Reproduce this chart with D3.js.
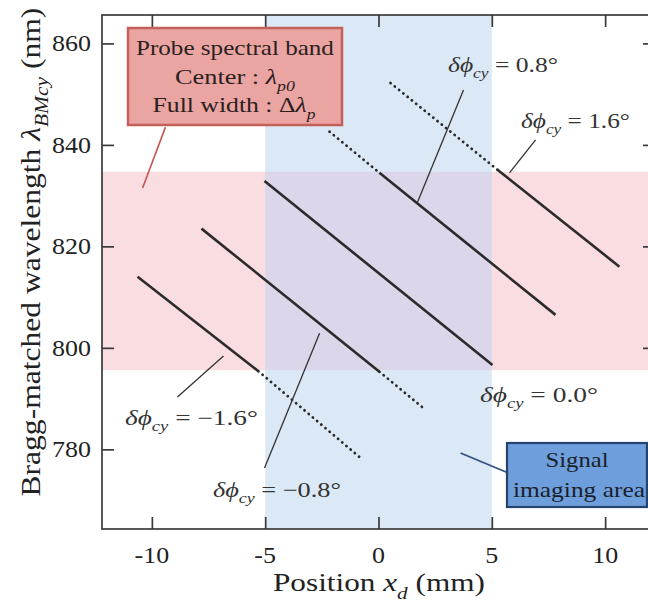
<!DOCTYPE html>
<html>
<head>
<meta charset="utf-8">
<script src="https://cdn.jsdelivr.net/npm/d3@7"></script>
<style>
  html, body { margin: 0; padding: 0; background: #fff; }
  svg { display: block; }
</style>
</head>
<body>
<svg id="chart" width="648" height="602"></svg>
<script>
// ---------------- DATA ----------------
const xTickValues = [-10, -5, 0, 5, 10];
const xTickLabels = ["-10", "-5", "0", "5", "10"];
const yTickValues = [780, 800, 820, 840, 860];
const yTickLabels = ["780", "800", "820", "840", "860"];

// phase offsets of the five Bragg-matched lines
const phaseValues = [-1.6, -0.8, 0.0, 0.8, 1.6];
const phaseLabels = ["\u22121.6\u00b0", "\u22120.8\u00b0", "0.0\u00b0", "0.8\u00b0", "1.6\u00b0"];

// solid part of each line (inside probe band): [[x mm, λ nm], [x mm, λ nm]]
const solidSegments = [
  [[-10.63, 814.0], [-5.30, 795.4]],
  [[-7.81, 823.5], [0.04, 795.3]],
  [[-5.03, 832.9], [5.03, 796.6]],
  [[0.04, 834.5], [7.81, 806.5]],
  [[5.25, 835.1], [10.63, 816.0]]
];
// dotted part of each line (outside probe band)
const dottedSegments = [
  [[-5.30, 795.4], [-0.79, 778.3]],
  [[0.04, 795.3], [2.07, 787.8]],
  null,
  [[-2.16, 842.6], [0.04, 834.5]],
  [[0.53, 852.2], [5.25, 835.1]]
];

const probeBand = [795.6, 834.7];   // nm (probe spectral band)
const signalArea = [-5, 5];         // mm (signal imaging area)
const xDomain = [-12.2, 12.2];
const yDomain = [764.3, 865.6];

// ---------------- LAYOUT ----------------
const svg = d3.select("#chart");
const plot = { left: 102, right: 655, top: 15, bottom: 529 };
const x = d3.scaleLinear().domain(xDomain).range([plot.left, plot.right]);
const y = d3.scaleLinear().domain(yDomain).range([plot.bottom, plot.top]);

const SERIF = "'Liberation Serif', 'Times New Roman', serif";
const INK = "#2b2b2b";

svg.append("rect").attr("width", 648).attr("height", 602).attr("fill", "#fff");

svg.append("clipPath").attr("id", "plotclip").append("rect")
  .attr("x", plot.left).attr("y", plot.top)
  .attr("width", plot.right - plot.left).attr("height", plot.bottom - plot.top);
const gPlot = svg.append("g").attr("clip-path", "url(#plotclip)");

// Bands
gPlot.append("rect")
  .attr("x", plot.left).attr("width", plot.right - plot.left)
  .attr("y", y(probeBand[1])).attr("height", y(probeBand[0]) - y(probeBand[1]))
  .attr("fill", "#f9dde0");
gPlot.append("rect")
  .attr("x", x(signalArea[0])).attr("width", x(signalArea[1]) - x(signalArea[0]))
  .attr("y", plot.top).attr("height", plot.bottom - plot.top)
  .attr("fill", "#dbe8f5");
gPlot.append("rect")
  .attr("x", x(signalArea[0])).attr("width", x(signalArea[1]) - x(signalArea[0]))
  .attr("y", y(probeBand[1])).attr("height", y(probeBand[0]) - y(probeBand[1]))
  .attr("fill", "#dbd6e9");

// Lines
const line = d3.line().x(d => x(d[0])).y(d => y(d[1]));
dottedSegments.forEach(seg => {
  if (!seg) return;
  gPlot.append("path").attr("d", line(seg))
    .attr("fill", "none").attr("stroke", INK).attr("stroke-width", 2.8)
    .attr("stroke-linecap", "round").attr("stroke-dasharray", "0.1 5.4");
});
solidSegments.forEach(seg => {
  gPlot.append("path").attr("d", line(seg))
    .attr("fill", "none").attr("stroke", INK).attr("stroke-width", 2.6)
    .attr("stroke-linecap", "butt");
});

// Frame + ticks
svg.append("rect")
  .attr("x", plot.left).attr("y", plot.top)
  .attr("width", plot.right - plot.left).attr("height", plot.bottom - plot.top)
  .attr("fill", "none").attr("stroke", "#3a3a3a").attr("stroke-width", 1.7);

const tickLen = 12;
const axB = d3.axisBottom(x).tickValues(xTickValues).tickSize(-tickLen).tickFormat(() => "");
const axT = d3.axisTop(x).tickValues(xTickValues).tickSize(-tickLen).tickFormat(() => "");
const axL = d3.axisLeft(y).tickValues(yTickValues).tickSize(-tickLen).tickFormat(() => "");
const axR = d3.axisRight(y).tickValues(yTickValues).tickSize(-tickLen).tickFormat(() => "");
[[axB, `translate(0,${plot.bottom})`], [axT, `translate(0,${plot.top})`],
 [axL, `translate(${plot.left},0)`], [axR, `translate(${plot.right},0)`]].forEach(([ax, tr]) => {
  const g = svg.append("g").attr("transform", tr).call(ax);
  g.select(".domain").remove();
  g.selectAll(".tick line").attr("stroke", "#3a3a3a").attr("stroke-width", 1.7);
});

// ---------- rich text helper ----------
function rich(parent, o) {
  const size = o.size || 22;
  const outer = parent.append("g")
    .attr("transform", `translate(${o.x},${o.y}) rotate(${o.rotate || 0})`);
  const inner = outer.append("g");
  const text = inner.append("text")
    .attr("font-family", SERIF).attr("font-size", size)
    .attr("fill", o.fill || INK);
  let shifted = 0;
  o.parts.forEach(p => {
    const part = typeof p === "string" ? { t: p } : p;
    const ts = text.append("tspan").text(part.t);
    if (part.italic) ts.attr("font-style", "italic");
    const want = part.sub ? size * 0.3 : 0;
    if (want !== shifted) { ts.attr("dy", want - shifted); shifted = want; }
    if (part.sub) ts.attr("font-size", size * 0.68);
  });
  const w = text.node().getComputedTextLength();
  const sx = o.width ? o.width / w : (o.sx || 1.13);
  const sy = o.sy || 1;
  const anchor = o.anchor || "start";
  const ax = anchor === "middle" ? -w / 2 : anchor === "end" ? -w : 0;
  inner.attr("transform", `scale(${sx},${sy}) translate(${ax},0)`);
  return outer;
}

// Tick labels
xTickValues.forEach((v, i) => {
  rich(svg, { x: x(v), y: 563, parts: [xTickLabels[i]], size: 23, anchor: "middle", fill: "#222" });
});
yTickValues.forEach((v, i) => {
  rich(svg, { x: 91, y: y(v) + 8, parts: [yTickLabels[i]], size: 23, anchor: "end", fill: "#222" });
});

// Axis titles
rich(svg, { x: 379, y: 591, size: 25, anchor: "middle", width: 212, fill: "#222",
  parts: ["Position  ", { t: "x", italic: true }, { t: "d", italic: true, sub: true }, "  (mm)"] });
rich(svg, { x: 40, y: 252, size: 25, anchor: "middle", width: 489, rotate: -90, sy: 1.1, fill: "#222",
  parts: ["Bragg-matched wavelength  ", { t: "\u03bb", italic: true }, { t: "BMcy", italic: true, sub: true }, " (nm)"] });

// Phase labels with leader lines (anchor points in data units)
const phaseLabelPos = [
  { x: 125, y: 425, w: 133 },
  { x: 213, y: 497, w: 128 },
  { x: 480, y: 402, w: 118 },
  { x: 448, y: 72, w: 110 },
  { x: 521, y: 128, w: 109 }
];
const phaseLeaders = [
  [[-6.84, 798.4], [-8.87, 790.3]],
  [[-2.60, 802.9], [-5.03, 776.3]],
  null,
  [[3.75, 850.8], [1.72, 828.7]],
  [[6.93, 841.0], [5.78, 834.5]]
];
phaseLeaders.forEach(seg => {
  if (!seg) return;
  svg.append("path").attr("d", line(seg)).attr("fill", "none")
    .attr("stroke", "#333").attr("stroke-width", 1.3);
});
phaseLabels.forEach((lab, i) => {
  const p = phaseLabelPos[i];
  rich(svg, { x: p.x, y: p.y, size: 21, width: p.w, fill: "#333",
    parts: [{ t: "\u03b4\u03d5", italic: true }, { t: "cy", italic: true, sub: true }, " = " + lab] });
});

// Probe spectral band annotation
svg.append("path").attr("d", line([[-9.40, 843.5], [-10.41, 831.5]]))
  .attr("stroke", "#c8544f").attr("stroke-width", 1.6).attr("fill", "none");
svg.append("rect").attr("x", 128).attr("y", 28).attr("width", 214).attr("height", 97)
  .attr("fill", "#eaa5a3").attr("stroke", "#c45f5a").attr("stroke-width", 2.5);
rich(svg, { x: 235, y: 55, size: 22, anchor: "middle", width: 198, fill: "#2a2020",
  parts: ["Probe spectral band"] });
rich(svg, { x: 235, y: 84, size: 22, anchor: "middle", width: 120, fill: "#2a2020",
  parts: ["Center : ", { t: "\u03bb", italic: true }, { t: "p0", italic: true, sub: true }] });
rich(svg, { x: 234, y: 112, size: 22, anchor: "middle", width: 163, fill: "#2a2020",
  parts: ["Full width : \u0394", { t: "\u03bb", italic: true }, { t: "p", italic: true, sub: true }] });

// Signal imaging area annotation
svg.append("path").attr("d", line([[3.62, 779.3], [5.65, 775.5]]))
  .attr("stroke", "#2f4f80").attr("stroke-width", 1.6).attr("fill", "none");
svg.append("rect").attr("x", 507).attr("y", 443).attr("width", 140).attr("height", 64)
  .attr("fill", "#6e9fdc").attr("stroke", "#24446f").attr("stroke-width", 2.2);
rich(svg, { x: 577, y: 467, size: 22, anchor: "middle", width: 63, fill: "#1a1f2a", parts: ["Signal"] });
rich(svg, { x: 579, y: 497, size: 22, anchor: "middle", width: 132, fill: "#1a1f2a", parts: ["imaging area"] });
</script>
</body>
</html>
